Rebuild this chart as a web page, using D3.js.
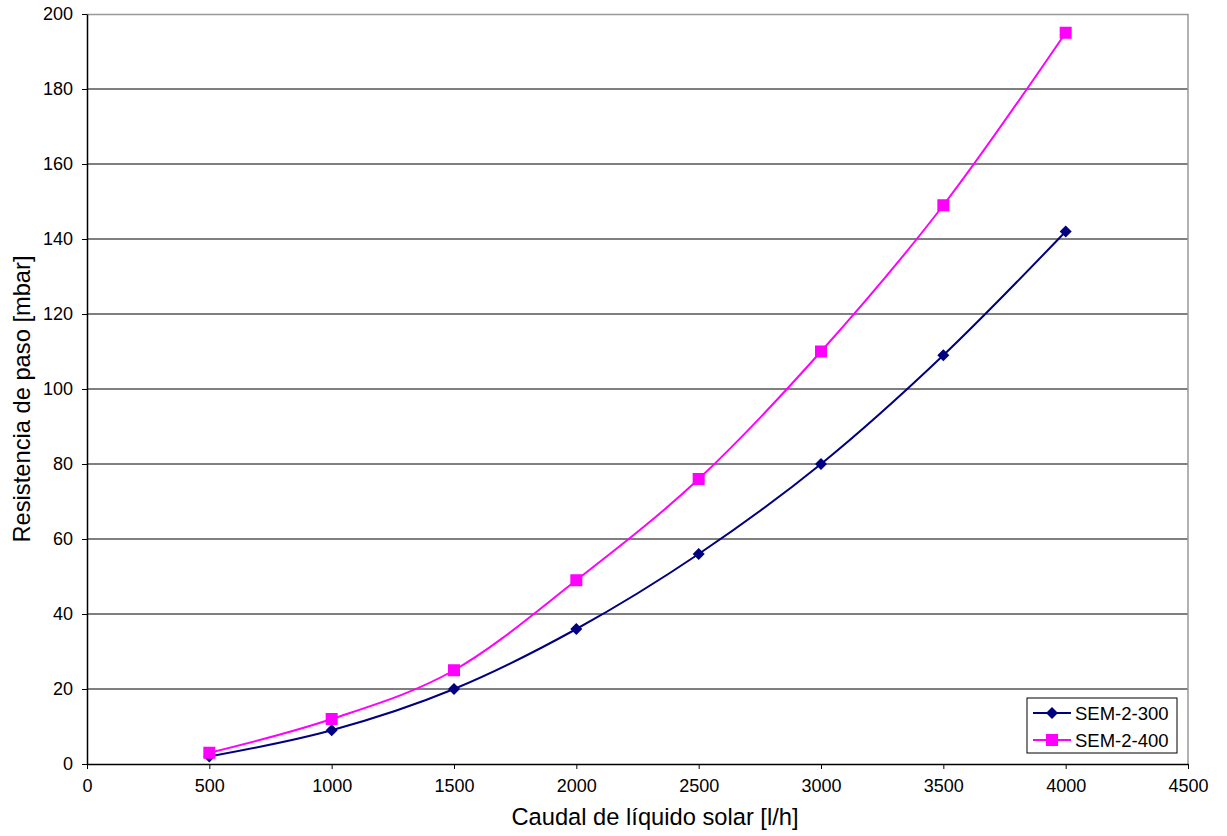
<!DOCTYPE html>
<html>
<head>
<meta charset="utf-8">
<script src="https://cdn.jsdelivr.net/npm/d3@7"></script>
<style>
  body { margin: 0; background: #fff; }
  text { font-family: "Liberation Sans", Arial, sans-serif; fill: #000; }
</style>
</head>
<body>
<div id="chart"></div>
<script>
// data
var flow = [500, 1000, 1500, 2000, 2500, 3000, 3500, 4000];
var sem300 = [2, 9, 20, 36, 56, 80, 109, 142];
var sem400 = [3, 12, 25, 49, 76, 110, 149, 195];
var seriesNames = ["SEM-2-300", "SEM-2-400"];
var xTicks = [0, 500, 1000, 1500, 2000, 2500, 3000, 3500, 4000, 4500];
var yTicks = [0, 20, 40, 60, 80, 100, 120, 140, 160, 180, 200];

var svgWidth = 1227, svgHeight = 836;
var margin = { top: 14, right: 39, bottom: 72, left: 87 };
var width = svgWidth - margin.left - margin.right;
var height = svgHeight - margin.top - margin.bottom;

var svg = d3.select("#chart").append("svg")
  .attr("width", svgWidth)
  .attr("height", svgHeight);

var chartGroup = svg.append("g")
  .attr("transform", `translate(${margin.left}, ${margin.top})`);

var xScale = d3.scaleLinear().domain([0, 4500]).range([0, width]);
var yScale = d3.scaleLinear().domain([0, 200]).range([height, 0]);

// gridlines
chartGroup.selectAll(".grid")
  .data(yTicks.filter(d => d > 0 && d < 200))
  .enter().append("line")
  .attr("x1", 0).attr("x2", width)
  .attr("y1", d => yScale(d)).attr("y2", d => yScale(d))
  .attr("stroke", "#000").attr("stroke-width", 1);

// plot border top/right (gray)
chartGroup.append("path")
  .attr("d", `M0,0.5H${width}V${height}`)
  .attr("fill", "none").attr("stroke", "#999").attr("stroke-width", 1.5);

// axes
var bottomAxis = d3.axisBottom(xScale).tickValues(xTicks).tickFormat(d3.format("d"))
  .tickSizeInner(5).tickSizeOuter(0).tickPadding(10);
var leftAxis = d3.axisLeft(yScale).tickValues(yTicks).tickFormat(d3.format("d"))
  .tickSizeInner(5).tickSizeOuter(0).tickPadding(9);

var xAxis = chartGroup.append("g")
  .attr("transform", `translate(0, ${height})`)
  .call(bottomAxis);
var yAxis = chartGroup.append("g").call(leftAxis);

[xAxis, yAxis].forEach(function(ax) {
  ax.selectAll("text").attr("font-size", "18px").attr("font-family", "Liberation Sans, Arial, sans-serif").attr("fill", "#000");
  ax.selectAll("line").attr("stroke", "#000");
  ax.select(".domain").attr("stroke", "#000").attr("stroke-width", 1.5);
});

// series lines
var line = d3.line()
  .x(d => xScale(d[0]))
  .y(d => yScale(d[1]))
  .curve(d3.curveCatmullRom.alpha(0));

var series = [
  { name: seriesNames[0], values: sem300, color: "#000080", marker: "diamond" },
  { name: seriesNames[1], values: sem400, color: "#FF00FF", marker: "square" }
];

function drawMarker(g, type, color) {
  if (type === "diamond") {
    g.append("path").attr("d", "M0,-6L6,0L0,6L-6,0Z").attr("fill", color);
  } else {
    g.append("rect").attr("x", -6).attr("y", -6).attr("width", 12).attr("height", 12).attr("fill", color);
  }
}

series.forEach(function(s) {
  var pts = flow.map((f, i) => [f, s.values[i]]);
  chartGroup.append("path")
    .datum(pts)
    .attr("d", line)
    .attr("fill", "none")
    .attr("stroke", s.color)
    .attr("stroke-width", 2);
  pts.forEach(function(p) {
    var g = chartGroup.append("g").attr("transform", `translate(${xScale(p[0])}, ${yScale(p[1])})`);
    drawMarker(g, s.marker, s.color);
  });
});

// axis titles
svg.append("text")
  .attr("x", 655)
  .attr("y", 825)
  .attr("text-anchor", "middle")
  .attr("font-size", "23.7px")
  .text("Caudal de líquido solar [l/h]");

svg.append("text")
  .attr("transform", "translate(30, 399) rotate(-90)")
  .attr("text-anchor", "middle")
  .attr("font-size", "23.7px")
  .text("Resistencia de paso [mbar]");

// legend
var legend = svg.append("g").attr("transform", "translate(1027, 698)");
legend.append("rect")
  .attr("width", 150).attr("height", 55)
  .attr("fill", "#fff").attr("stroke", "#000").attr("stroke-width", 1);

series.forEach(function(s, i) {
  var row = legend.append("g").attr("transform", `translate(0, ${15 + i * 27})`);
  row.append("line").attr("x1", 6).attr("x2", 44).attr("y1", 0).attr("y2", 0)
    .attr("stroke", s.color).attr("stroke-width", 2);
  var m = row.append("g").attr("transform", "translate(25, 0)");
  drawMarker(m, s.marker, s.color);
  row.append("text").attr("x", 48).attr("y", 6.5).attr("font-size", "18.5px").text(s.name);
});
</script>
</body>
</html>
